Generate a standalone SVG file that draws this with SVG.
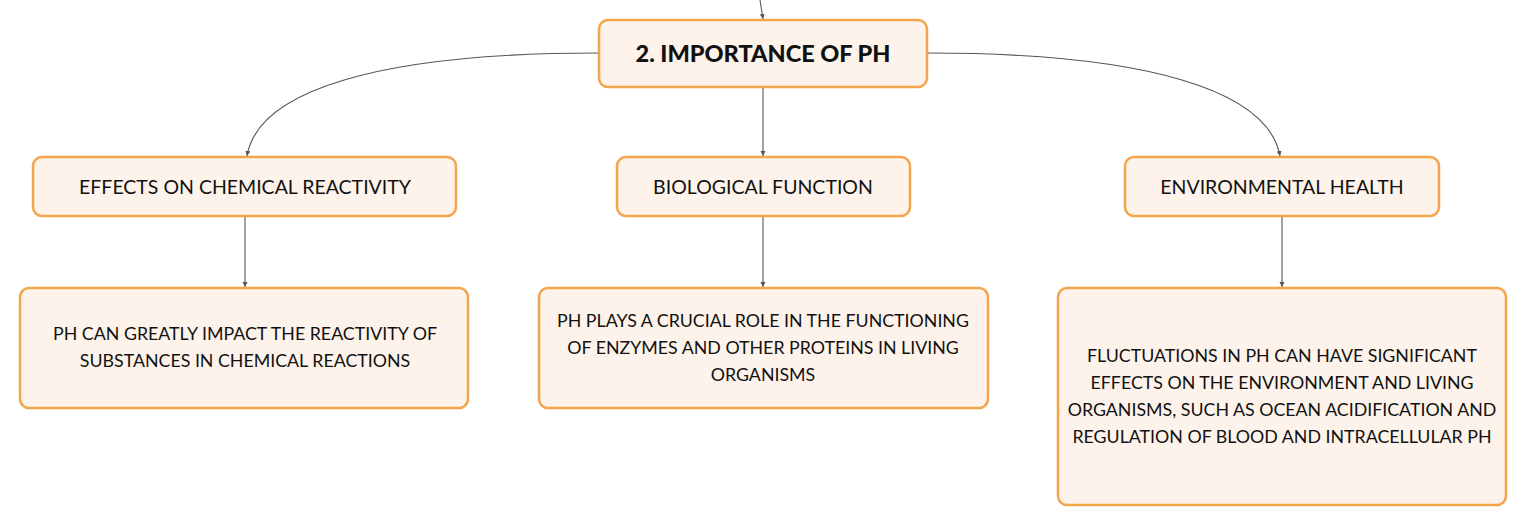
<svg xmlns="http://www.w3.org/2000/svg" width="1527" height="526" viewBox="0 0 1527 526">
<defs>
<marker id="arr" markerWidth="6" markerHeight="6" refX="5" refY="3" orient="auto" markerUnits="userSpaceOnUse">
<path d="M0,0.5 L5,3 L0,5.5 Z" fill="#555"/>
</marker>
<style>
.box{fill:#FDF3EA;stroke:#F2A54A;stroke-width:2.5}
.t{font-family:Lato,"Noto Sans",sans-serif;fill:#111;text-anchor:middle}
.title{font-size:23.5px;font-weight:900}
.sub{font-size:19.5px}
.leaf{font-size:17.8px}
.c{fill:none;stroke:#555;stroke-width:1.1}
</style>
</defs>
<rect width="1527" height="526" fill="#fff"/>
<g id="connectors">
<path class="c" d="M760,0 L763,19" marker-end="url(#arr)"/>
<path class="c" d="M599,53 C380,53 258,90 247,156" marker-end="url(#arr)"/>
<path class="c" d="M927,53 C1146,53 1268,90 1280,156" marker-end="url(#arr)"/>
<path class="c" d="M763,87 L763,156" marker-end="url(#arr)"/>
<path class="c" d="M245,216 L245,287" marker-end="url(#arr)"/>
<path class="c" d="M763,216 L763,287" marker-end="url(#arr)"/>
<path class="c" d="M1282,216 L1282,287" marker-end="url(#arr)"/>
</g>
<g id="root">
<rect class="box" x="599" y="20" width="328" height="67" rx="9"/>
<text class="t title" x="763" y="62">2. IMPORTANCE OF PH</text>
</g>
<g id="chem">
<rect class="box" x="33" y="157" width="423" height="59" rx="9"/>
<text class="t sub" x="245" y="194">EFFECTS ON CHEMICAL REACTIVITY</text>
</g>
<g id="bio">
<rect class="box" x="617" y="157" width="293" height="59" rx="9"/>
<text class="t sub" x="763" y="194">BIOLOGICAL FUNCTION</text>
</g>
<g id="env">
<rect class="box" x="1125" y="157" width="314" height="59" rx="9"/>
<text class="t sub" x="1282" y="194">ENVIRONMENTAL HEALTH</text>
</g>
<g id="chem-leaf">
<rect class="box" x="20" y="288" width="448" height="120" rx="9"/>
<text class="t leaf" x="245" y="340">PH CAN GREATLY IMPACT THE REACTIVITY OF</text>
<text class="t leaf" x="245" y="367">SUBSTANCES IN CHEMICAL REACTIONS</text>
</g>
<g id="bio-leaf">
<rect class="box" x="539" y="288" width="449" height="120" rx="9"/>
<text class="t leaf" x="763" y="327">PH PLAYS A CRUCIAL ROLE IN THE FUNCTIONING</text>
<text class="t leaf" x="763" y="354">OF ENZYMES AND OTHER PROTEINS IN LIVING</text>
<text class="t leaf" x="763" y="381">ORGANISMS</text>
</g>
<g id="env-leaf">
<rect class="box" x="1058" y="288" width="448" height="217" rx="9"/>
<text class="t leaf" x="1282" y="362">FLUCTUATIONS IN PH CAN HAVE SIGNIFICANT</text>
<text class="t leaf" x="1282" y="389">EFFECTS ON THE ENVIRONMENT AND LIVING</text>
<text class="t leaf" x="1282" y="416">ORGANISMS, SUCH AS OCEAN ACIDIFICATION AND</text>
<text class="t leaf" x="1282" y="443">REGULATION OF BLOOD AND INTRACELLULAR PH</text>
</g>
</svg>
